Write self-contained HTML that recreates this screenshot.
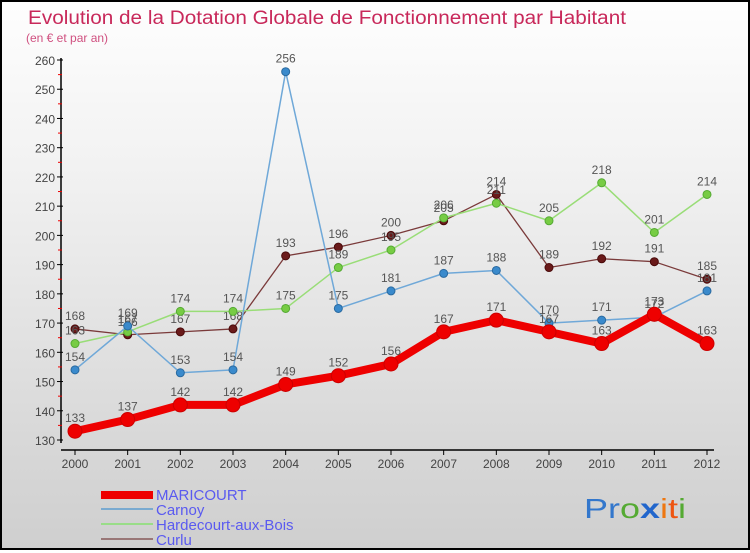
<!DOCTYPE html>
<html><head><meta charset="utf-8"><style>
html,body{margin:0;padding:0}
body{width:750px;height:550px;overflow:hidden;font-family:"Liberation Sans",sans-serif}
#wrap{position:relative;width:746px;height:546px;border:2px solid #000;background:linear-gradient(#fefefe,#f2f2f2 30%,#d8d8d8 80%,#cfcfcf)}
</style></head><body>
<div id="wrap">
<svg id="chart" width="746" height="546" xmlns="http://www.w3.org/2000/svg">
<text x="26" y="22" font-size="19" fill="#c8285a" font-family="Liberation Sans, sans-serif" textLength="598" lengthAdjust="spacingAndGlyphs">Evolution de la Dotation Globale de Fonctionnement par Habitant</text>
<text x="24" y="40" font-size="12" fill="#d05080">(en € et par an)</text>
<g id="axes"></g><g id="series"></g>
<g>
<rect x="99" y="489" width="52" height="8" fill="#e00"/>
<text x="154" y="498" font-size="15" fill="#5a5af0">MARICOURT</text>
<rect x="99" y="506" width="52" height="2" fill="#7aaad0"/>
<text x="154" y="513" font-size="15" fill="#5a5af0">Carnoy</text>
<rect x="99" y="521" width="52" height="2" fill="#99dd88"/>
<text x="154" y="528" font-size="15" fill="#5a5af0">Hardecourt-aux-Bois</text>
<rect x="99" y="536" width="52" height="2" fill="#997777"/>
<text x="154" y="543" font-size="15" fill="#5a5af0">Curlu</text>
</g>
<g font-size="28" font-family="Liberation Sans, sans-serif">
<text x="582" y="516" textLength="102" lengthAdjust="spacingAndGlyphs"><tspan fill="#3377cc">Pr</tspan><tspan fill="#55aa33">o</tspan><tspan fill="#2266cc" font-weight="bold">x</tspan><tspan fill="#ee7711">i</tspan><tspan fill="#ee5511">t</tspan><tspan fill="#55aa33">i</tspan></text>
</g>
</svg>
</div>
<script>
const years=[2000,2001,2002,2003,2004,2005,2006,2007,2008,2009,2010,2011,2012];
const maricourt=[133,137,142,142,149,152,156,167,171,167,163,173,163];
const carnoy=[154,169,153,154,256,175,181,187,188,170,171,172,181];
const hardecourt=[163,167,174,174,175,189,195,206,211,205,218,201,214];
const curlu=[168,166,167,168,193,196,200,205,214,189,192,191,185];
const yTicks=[130,140,150,160,170,180,190,200,210,220,230,240,250,260];
const NS="http://www.w3.org/2000/svg";
function X(i){return 73+i*(705-73)/12;}
function Y(v){return 438-(v-130)*(380/130);}
function mk(t,a,p){const e=document.createElementNS(NS,t);for(const k in a)e.setAttribute(k,a[k]);p.appendChild(e);return e;}
const ax=document.getElementById('axes');
const yl=mk('line',{x1:59,y1:56,x2:59,y2:441,stroke:'#000','stroke-width':1.5},ax);


const xl=mk('line',{x1:59,y1:448,x2:712,y2:448,stroke:'#000','stroke-width':1.5},ax);


yTicks.forEach(v=>{
 mk('line',{x1:55,y1:Y(v),x2:61,y2:Y(v),stroke:'#000'},ax);
 if(v<260)mk('line',{x1:56,y1:Y(v+5),x2:60,y2:Y(v+5),stroke:'#e00'},ax);
 const t=mk('text',{x:53,y:Y(v)+5,'text-anchor':'end','font-size':12,fill:'#444'},ax);
 t.textContent=v;
 
 
});
years.forEach((y,i)=>{
 mk('line',{x1:X(i),y1:448,x2:X(i),y2:453,stroke:'#000'},ax);
 const t=mk('text',{x:X(i),y:466,'text-anchor':'middle','font-size':12,fill:'#444'},ax);
 t.textContent=y;
 
 
});
const sg=document.getElementById('series');
function draw(data,color,w,r,name,dot,stroke){
 const g=mk('g',{},sg);
 
 
 const pl=mk('polyline',{points:data.map((v,i)=>X(i)+','+Y(v)).join(' '),fill:'none',stroke:color,'stroke-width':w,'stroke-linejoin':'round'},g);
 
 
 data.forEach((v,i)=>{
  const c=mk('circle',{cx:X(i),cy:Y(v),r:r,fill:dot,stroke:stroke,'stroke-width':1},g);
  
  
  const t=mk('text',{x:X(i),y:Y(v)-9,'text-anchor':'middle','font-size':12,fill:'#555'},g);
  t.textContent=v;
  
  
 });
}
draw(curlu,'#7a3a3a',1.3,4,'curlu','#6a1a1a','#4a0a0a');
draw(hardecourt,'#99dd77',1.5,4,'hardecourt','#77cc44','#55aa33');
draw(carnoy,'#6fa8d8',1.5,4,'carnoy','#3a8acc','#2a6aa0');
draw(maricourt,'#ee0000',8,7,'maricourt','#ee0000','#cc0000');
</script>
</body></html>
